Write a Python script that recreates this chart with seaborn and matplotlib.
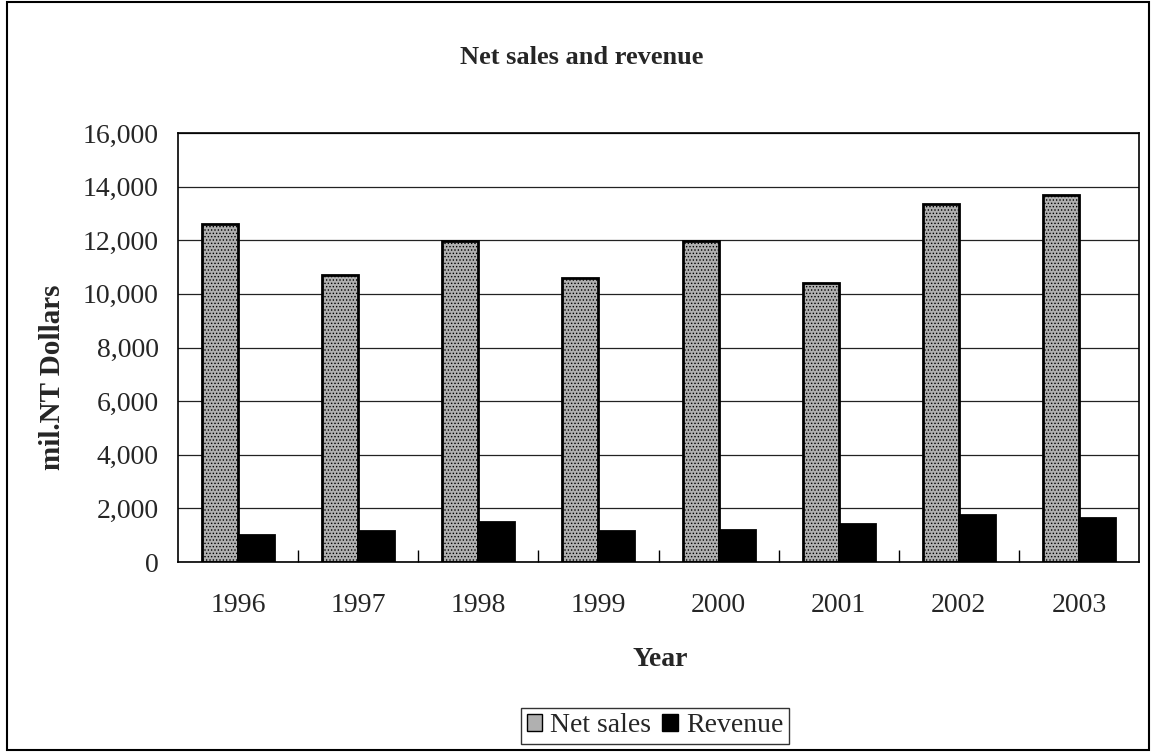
import matplotlib
matplotlib.use("Agg")
import matplotlib.pyplot as plt
import matplotlib.ticker as mticker
from matplotlib.patches import Rectangle
import seaborn as sns
import pandas as pd

years = ['1996', '1997', '1998', '1999', '2000', '2001', '2002', '2003']
net_sales = [12620, 10720, 11960, 10600, 11960, 10390, 13350, 13680]
revenue = [990, 1140, 1480, 1140, 1210, 1420, 1740, 1640]
series = ['Net sales', 'Revenue']

df = pd.DataFrame({
    'year': years * 2,
    'value': net_sales + revenue,
    'series': [series[0]] * len(years) + [series[1]] * len(years),
})

sns.set_theme(style='white')
plt.rcParams['font.family'] = ['Liberation Serif', 'DejaVu Serif']
plt.rcParams['hatch.color'] = '#6a6a6a'
plt.rcParams['hatch.linewidth'] = 0.6

fig = plt.figure(figsize=(11.53, 7.52), dpi=100)
ax = fig.add_axes([178 / 1153, 1 - 562 / 752, (1139 - 178) / 1153, (562 - 133) / 752])

sns.barplot(data=df, x='year', y='value', hue='series', order=years, hue_order=series,
            palette=['#b0b0b0', '#000000'], width=0.6, saturation=1, ax=ax,
            edgecolor='black', linewidth=2, errorbar=None)

for bar in ax.containers[0]:
    bar.set_hatch('.....')

ax.set_ylim(0, 16000)
ax.set_xlim(-0.5, len(years) - 0.5)
ax.yaxis.set_major_locator(mticker.MultipleLocator(2000))
ax.yaxis.set_major_formatter(mticker.FuncFormatter(lambda v, p: f'{int(v):,}'))
ax.yaxis.grid(True, color='#222222', linewidth=0.9)
ax.set_axisbelow(True)

ax.xaxis.set_minor_locator(mticker.FixedLocator([i + 0.5 for i in range(len(years) - 1)]))
ax.tick_params(axis='x', which='major', length=0, pad=22, labelsize=20)
ax.tick_params(axis='x', which='minor', direction='in', length=9, width=1, color='black', bottom=True)
ax.tick_params(axis='y', length=0, pad=14, labelsize=20)

for s in ax.spines.values():
    s.set_visible(True)
    s.set_color('black')
    s.set_linewidth(1.2)

ax.set_xlabel('')
ax.set_ylabel('')
ax.get_legend().remove()

fig.text(582 / 1153, 1 - 57 / 752, 'Net sales and revenue', ha='center', va='center',
         fontsize=19, fontweight='bold')
fig.text(53 / 1153, 1 - 377 / 752, 'mil.NT Dollars', ha='center', va='center',
         rotation=90, fontsize=21, fontweight='bold')
fig.text(660 / 1153, 1 - 659 / 752, 'Year', ha='center', va='center',
         fontsize=20, fontweight='bold')

handles, labels = ax.get_legend_handles_labels()
leg = fig.legend(handles[:2], labels[:2], loc='center', bbox_to_anchor=(655 / 1153, 1 - 726 / 752),
                 ncol=2, fontsize=20, frameon=True, fancybox=False, edgecolor='black',
                 handlelength=0.55, handleheight=0.55, handletextpad=0.3, columnspacing=0.4,
                 borderpad=0.2, borderaxespad=0)
leg.get_frame().set_linewidth(1)
for h in leg.legend_handles:
    h.set_linewidth(1)

fig.patches.append(Rectangle((7 / 1153, 2 / 752), 1142 / 1153, 748 / 752, transform=fig.transFigure,
                             fill=False, edgecolor='black', linewidth=1.5))

fig.savefig('out.png', dpi=100, facecolor='white')
